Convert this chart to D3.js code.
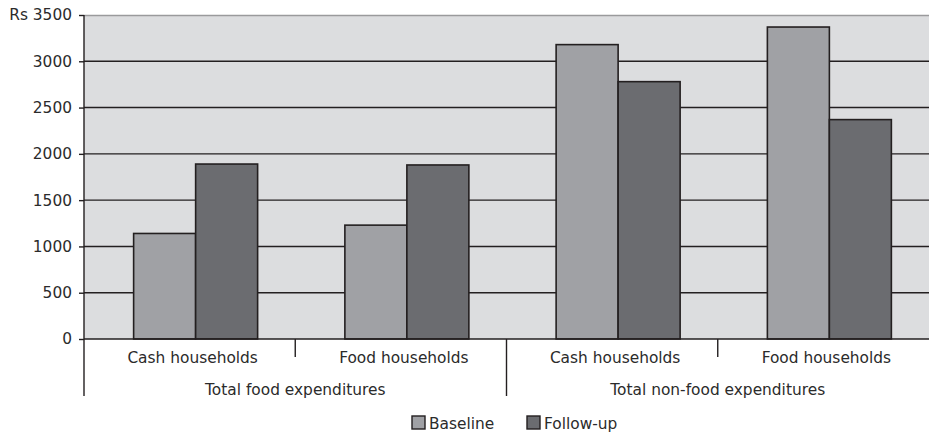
<!DOCTYPE html>
<html>
<head>
<meta charset="utf-8">
<script src="https://cdn.jsdelivr.net/npm/d3@7"></script>
<style>
  html, body { margin: 0; padding: 0; background: #fff; }
  svg { display: block; font-family: "DejaVu Sans", Verdana, sans-serif; }
</style>
</head>
<body>
<svg id="chart" width="929" height="433"></svg>
<script>
// Household groups within each expenditure type
const categories = ["Cash households", "Food households", "Cash households", "Food households"];
const groups = ["Total food expenditures", "Total non-food expenditures"];
const groupOf = [0, 0, 1, 1];
const seriesNames = ["Baseline", "Follow-up"];
const baseline = [1140, 1230, 3180, 3370];
const followUp = [1890, 1880, 2780, 2370];
const yTicks = [0, 500, 1000, 1500, 2000, 2500, 3000, 3500];

const colors = { "Baseline": "#a0a1a5", "Follow-up": "#6b6c70" };
const ink = "#231f20";
const textInk = "#2b2b2b";
const fontSize = "15.4px";

const svg = d3.select("#chart");
const plotL = 84, plotR = 929, plotT = 15, plotB = 339;

const y = d3.scaleLinear().domain([0, 3500]).range([plotB, plotT]);
const x = d3.scaleBand().domain(d3.range(categories.length)).range([plotL, plotR]).padding(0);
const barOffset = 6;
const xs = d3.scaleBand().domain(seriesNames).range([0, 124]);

// plot background
svg.append("rect").attr("x", plotL).attr("y", plotT)
  .attr("width", plotR - plotL).attr("height", plotB - plotT).attr("fill", "#dcdddf");

// top border
svg.append("line").attr("x1", plotL).attr("x2", plotR).attr("y1", y(3500) + 0.5).attr("y2", y(3500) + 0.5)
  .attr("stroke", "#9a9a9c").attr("stroke-width", 1.5);

// horizontal gridlines
svg.append("g").selectAll("line").data(yTicks.filter(d => d > 0 && d < 3500)).join("line")
  .attr("x1", plotL).attr("x2", plotR)
  .attr("y1", d => y(d)).attr("y2", d => y(d))
  .attr("stroke", ink).attr("stroke-width", 1.4);

// bars
const values = { "Baseline": baseline, "Follow-up": followUp };
const bars = [];
categories.forEach((c, i) => seriesNames.forEach(s => bars.push({ i, s, v: values[s][i] })));
svg.append("g").selectAll("rect").data(bars).join("rect")
  .attr("x", d => x(d.i) + (x.bandwidth() - 124) / 2 + barOffset + xs(d.s))
  .attr("y", d => y(d.v))
  .attr("width", xs.bandwidth())
  .attr("height", d => y(0) - y(d.v))
  .attr("fill", d => colors[d.s])
  .attr("stroke", ink).attr("stroke-width", 1.6);

// y axis
const yAxis = d3.axisLeft(y).tickValues(yTicks).tickSize(5).tickPadding(7)
  .tickFormat(d => d === 3500 ? "Rs 3500" : d);
const gy = svg.append("g").attr("transform", `translate(${plotL},0)`).call(yAxis);
gy.select(".domain").remove();
gy.selectAll(".tick line").attr("stroke", ink).attr("stroke-width", 1.4);
gy.selectAll(".tick text").attr("fill", textInk).style("font-size", fontSize)
  .style("font-family", "'DejaVu Sans', Verdana, sans-serif");

// left axis line extending below plot
svg.append("line").attr("x1", plotL).attr("x2", plotL).attr("y1", plotT).attr("y2", 396)
  .attr("stroke", ink).attr("stroke-width", 1.4);

// baseline axis
svg.append("line").attr("x1", plotL).attr("x2", plotR).attr("y1", plotB).attr("y2", plotB)
  .attr("stroke", ink).attr("stroke-width", 1.4);

// category separators
d3.range(1, categories.length).forEach(i => {
  const major = groupOf[i] !== groupOf[i - 1];
  svg.append("line").attr("x1", x(i)).attr("x2", x(i))
    .attr("y1", plotB).attr("y2", major ? 396 : 357)
    .attr("stroke", ink).attr("stroke-width", 1.4);
});

// category labels
svg.append("g").selectAll("text").data(categories).join("text")
  .attr("x", (d, i) => x(i) + x.bandwidth() / 2 + 3)
  .attr("y", 363)
  .attr("text-anchor", "middle").attr("fill", textInk).style("font-size", fontSize)
  .text(d => d);

// group labels
svg.append("g").selectAll("text").data(groups).join("text")
  .attr("x", (d, g) => {
    const idx = d3.range(categories.length).filter(i => groupOf[i] === g);
    return (x(idx[0]) + x(idx[idx.length - 1]) + x.bandwidth()) / 2;
  })
  .attr("y", 395)
  .attr("text-anchor", "middle").attr("fill", textInk).style("font-size", fontSize)
  .text(d => d);

// legend
const legendX = [412, 527];
const lg = svg.append("g").selectAll("g").data(seriesNames).join("g")
  .attr("transform", (d, i) => `translate(${legendX[i]},416)`);
lg.append("rect").attr("width", 13).attr("height", 13)
  .attr("fill", d => colors[d]).attr("stroke", ink).attr("stroke-width", 1.4);
lg.append("text").attr("x", 17).attr("y", 12.5).attr("fill", textInk).style("font-size", fontSize)
  .text(d => d);
</script>
</body>
</html>
